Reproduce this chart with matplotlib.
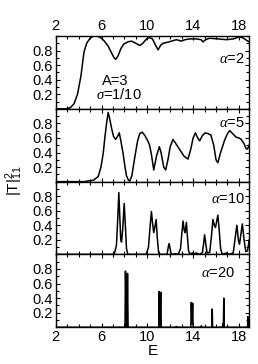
import matplotlib
matplotlib.use('Agg')
import matplotlib.pyplot as plt
from matplotlib.ticker import MultipleLocator, FixedLocator

plt.rcParams['font.family'] = ['Liberation Sans', 'DejaVu Sans']
plt.rcParams['mathtext.fontset'] = 'custom'
plt.rcParams['mathtext.rm'] = 'Liberation Sans'
plt.rcParams['mathtext.it'] = 'Liberation Serif:italic'

# alpha = 2
e_a2 = [2, 2.96, 3.3, 3.6, 3.9, 4.2, 4.47, 4.7, 5.0, 5.3, 5.6, 5.9, 6.2, 6.58, 6.9,
        7.1, 7.25, 7.45, 7.7, 7.95, 8.3, 8.62, 9.0, 9.34, 9.6, 9.93, 10.2, 10.45,
        10.7, 10.94, 11.15, 11.37, 11.9, 12.54, 12.97, 13.3, 13.7, 14.3, 14.7,
        14.86, 15.1, 15.44, 16.2, 16.9, 17.5, 18.05, 18.4, 18.78, 18.9]
t_a2 = [0, 0, 0.02, 0.07, 0.2, 0.45, 0.78, 0.9, 0.97, 1.0, 1.0, 0.98, 0.94, 0.86, 0.76,
        0.7, 0.68, 0.73, 0.83, 0.89, 0.92, 0.93, 0.9, 0.87, 0.9, 0.96, 0.98, 0.96,
        0.88, 0.81, 0.87, 0.9, 0.92, 0.95, 0.93, 0.95, 0.96, 0.96, 0.95,
        0.92, 0.95, 0.97, 0.96, 0.95, 0.96, 0.99, 0.97, 0.93, 0.92]

# alpha = 5
e_a5 = [2, 4.5, 4.84, 5.3, 5.71, 5.95, 6.15, 6.3, 6.44, 6.58, 6.72, 6.88, 7.05, 7.23,
        7.4, 7.55, 7.7, 7.89, 8.05, 8.18, 8.35, 8.47, 8.65, 8.91, 9.15, 9.34, 9.55,
        9.8, 10.07, 10.2, 10.36, 10.56, 10.8, 11.05, 11.2, 11.43, 11.6, 11.8, 12.0,
        12.24, 12.5, 12.83, 13.2, 13.55, 13.8, 14.0, 14.2, 14.4, 14.57, 14.8, 15.05,
        15.3, 15.55, 15.8, 16.0, 16.16, 16.4, 16.75, 17.0, 17.2, 17.45, 17.76, 18.0,
        18.2, 18.45, 18.64, 18.75, 18.9]
t_a5 = [0, 0, 0.01, 0.02, 0.07, 0.2, 0.39, 0.62, 0.8, 0.95, 0.86, 0.73, 0.62, 0.58,
        0.62, 0.67, 0.55, 0.38, 0.2, 0.08, 0.02, 0.01, 0.08, 0.34, 0.56, 0.66, 0.68,
        0.63, 0.55, 0.5, 0.37, 0.16, 0.35, 0.48, 0.4, 0.2, 0.16, 0.3, 0.48,
        0.58, 0.52, 0.44, 0.35, 0.31, 0.45, 0.6, 0.67, 0.6, 0.56, 0.63, 0.67,
        0.66, 0.64, 0.5, 0.3, 0.26, 0.4, 0.57, 0.66, 0.7, 0.66, 0.61, 0.6,
        0.58, 0.52, 0.45, 0.45, 0.5]

# alpha = 10
e_a10 = [2, 7.1, 7.3, 7.42, 7.51, 7.6, 7.68, 7.75, 7.85, 7.98, 8.08, 8.18, 8.3,
         9.9, 10.1, 10.25, 10.36, 10.46, 10.56, 10.66, 10.77, 10.86, 10.98, 11.1,
         11.72, 11.83, 11.9, 11.97, 12.08, 12.5, 12.7, 12.9, 13.02, 13.12, 13.22,
         13.3, 13.41, 13.5, 13.6, 13.75, 13.9, 14.1, 14.3, 14.5, 14.8, 14.92, 15.0,
         15.1, 15.22, 15.45, 15.6, 15.73, 15.85, 15.95, 16.05, 16.16, 16.27, 16.4,
         16.55, 16.9, 17.1, 17.5, 17.65, 17.82, 17.95, 18.05, 18.15, 18.3, 18.45,
         18.6, 18.75, 18.9]
t_a10 = [0, 0, 0.12, 0.5, 0.85, 0.5, 0.2, 0.17, 0.35, 0.7, 0.4, 0.08, 0,
         0, 0.1, 0.4, 0.59, 0.42, 0.3, 0.38, 0.48, 0.25, 0.03, 0,
         0, 0.1, 0.15, 0.1, 0, 0.01, 0, 0.08, 0.3, 0.46, 0.33,
         0.3, 0.44, 0.25, 0.05, 0, 0.02, 0.01, 0.02, 0, 0.02, 0.15, 0.27,
         0.15, 0.02, 0.03, 0.25, 0.48, 0.4, 0.37, 0.45, 0.54, 0.35, 0.08,
         0, 0.02, 0, 0.02, 0.2, 0.4, 0.2, 0.14, 0.25, 0.42, 0.2,
         0.04, 0.05, 0.2]

# alpha = 20
e_a20 = [2, 8.05, 8.09, 8.17, 8.22, 8.27, 8.32, 11.0, 11.03, 11.1, 11.17, 11.22,
         12.5, 12.54, 12.58, 13.8, 13.84, 13.9, 13.96, 14.0, 14.68, 14.72, 14.76,
         15.65, 15.67, 15.7, 16.55, 16.6, 16.64, 16.68, 16.72, 18.75, 18.78, 18.82]
t_a20 = [0, 0, 0.77, 0.02, 0, 0.74, 0, 0, 0.49, 0, 0.48, 0,
         0, 0.01, 0, 0, 0.34, 0.05, 0.33, 0, 0, 0.02, 0,
         0, 0.25, 0, 0, 0.05, 0, 0.40, 0, 0, 0.145, 0]

x_ticks = [2, 6, 10, 14, 18]
y_ticks = [0.2, 0.4, 0.6, 0.8]

panels = [(e_a2, t_a2, r'$\alpha$=2'), (e_a5, t_a5, r'$\alpha$=5'),
          (e_a10, t_a10, r'$\alpha$=10'), (e_a20, t_a20, r'$\alpha$=20')]
label_pos = [(0.978, 0.684), (0.978, 0.81), (0.978, 0.76), (0.925, 0.75)]

fig = plt.figure(figsize=(2.58, 3.64), dpi=100)
left, width, height = 0.216, 0.750, 0.2
bottoms = [0.701, 0.501, 0.301, 0.101]

for i, ((e, t, lab), (lx, ly)) in enumerate(zip(panels, label_pos)):
    ax = fig.add_axes([left, bottoms[i], width, height])
    ax.plot(e, t, color='black', lw=1.1)
    ax.set_xlim(2, 18.9)
    ax.set_ylim(0, 1.0)
    ax.xaxis.set_major_locator(FixedLocator(x_ticks))
    ax.xaxis.set_minor_locator(MultipleLocator(1))
    ax.set_yticks(y_ticks)
    ax.yaxis.set_minor_locator(MultipleLocator(0.1))
    ax.tick_params(which='both', direction='in', top=True, right=True,
                   labelsize=10.5, width=0.8, pad=2)
    ax.tick_params(which='major', length=3)
    ax.tick_params(which='minor', length=2)
    for s in ax.spines.values():
        s.set_linewidth(1.0)
    if i == 0:
        ax.tick_params(labelbottom=False, labeltop=True)
    elif i == 3:
        ax.set_xlabel('E', fontsize=11, labelpad=0)
    else:
        ax.tick_params(labelbottom=False)
    ax.text(lx, ly, lab, transform=ax.transAxes, ha='right', va='center', fontsize=10.5)
    if i == 0:
        ax.text(0.31, 0.385, 'A=3', transform=ax.transAxes, ha='center', va='center', fontsize=10.5)
        ax.text(0.324, 0.2, r'$\sigma$=1/10', transform=ax.transAxes, ha='center', va='center', fontsize=10.5)

fig.text(0.055, 0.503, r'$|\mathrm{T}|^2_{11}$', rotation=90, ha='center', va='center', fontsize=11)

plt.savefig('out.png', dpi=100)
